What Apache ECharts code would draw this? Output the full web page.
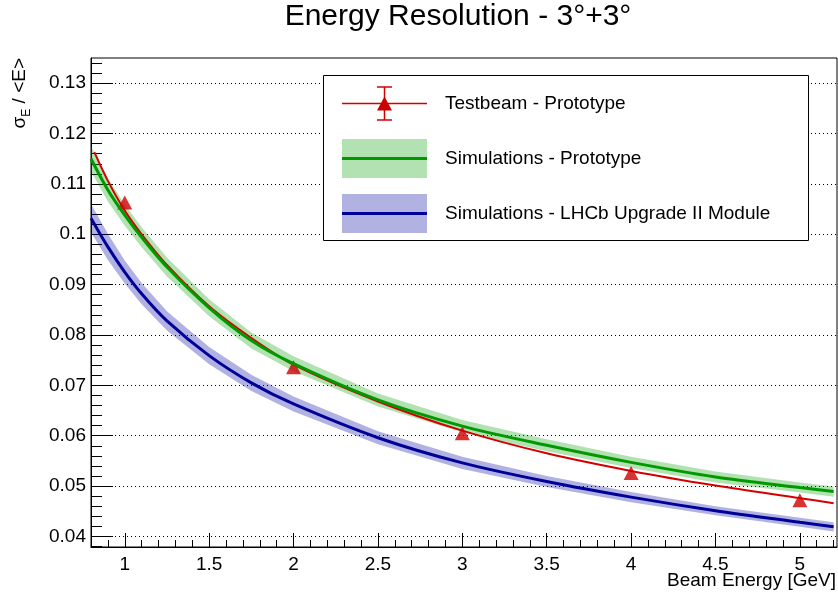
<!DOCTYPE html>
<html><head><meta charset="utf-8">
<script src="https://cdn.jsdelivr.net/npm/echarts@6/dist/echarts.min.js"></script>
<style>html,body{margin:0;padding:0;background:#fff}#c{width:838px;height:595px}</style>
</head><body><div id="c"></div>
<script>
// ---- data ----
const energies      = [0.8, 0.9, 1.0, 1.1, 1.25, 1.5, 1.75, 2.0, 2.5, 3.0, 3.5, 4.0, 4.5, 5.0, 5.2];
const simProto      = [0.1150, 0.1088, 0.1038, 0.0994, 0.0935, 0.0854, 0.0789, 0.0743, 0.0671, 0.0619, 0.0581, 0.0547, 0.0518, 0.0497, 0.0489];
const simProtoErr   = [0.0025, 0.0023, 0.0021, 0.0020, 0.0019, 0.0017, 0.0016, 0.0015, 0.0013, 0.0012, 0.0012, 0.0011, 0.0011, 0.0010, 0.0010];
const simUpgrade    = [0.1032, 0.0975, 0.0925, 0.0882, 0.0828, 0.0759, 0.0705, 0.0663, 0.0596, 0.0546, 0.0509, 0.0478, 0.0451, 0.0428, 0.0419];
const simUpgradeErr = [0.0028, 0.0026, 0.0023, 0.0021, 0.0019, 0.0017, 0.0016, 0.0015, 0.0013, 0.0012, 0.0011, 0.0010, 0.0009, 0.0009, 0.0009];
const fitEnergies   = [0.82, 0.9, 1.0, 1.1, 1.25, 1.5, 1.75, 2.0, 2.5, 3.0, 3.5, 4.0, 4.5, 5.0, 5.2];
const fitTestbeam   = [0.1163, 0.1106, 0.1047, 0.1000, 0.0939, 0.0857, 0.0794, 0.0741, 0.0668, 0.0610, 0.0565, 0.0530, 0.0501, 0.0476, 0.0466];
const beamEnergies  = [1, 2, 3, 4, 5];
const testbeam      = [0.1063, 0.0736, 0.0605, 0.0526, 0.0472];
const xTicks        = [1, 1.5, 2, 2.5, 3, 3.5, 4, 4.5, 5];
const xMinorTicks   = [0.9, 1.1, 1.2, 1.3, 1.4, 1.6, 1.7, 1.8, 1.9, 2.1, 2.2, 2.3, 2.4, 2.6, 2.7, 2.8, 2.9,
                       3.1, 3.2, 3.3, 3.4, 3.6, 3.7, 3.8, 3.9, 4.1, 4.2, 4.3, 4.4, 4.6, 4.7, 4.8, 4.9, 5.1, 5.2];
const yTicks        = [0.04, 0.05, 0.06, 0.07, 0.08, 0.09, 0.1, 0.11, 0.12, 0.13];
const titleText     = 'Energy Resolution - 3°+3°';
const legendLabels  = ['Testbeam - Prototype', 'Simulations - Prototype', 'Simulations - LHCb Upgrade II Module'];

const yMinorTicks = [0.038];
yTicks.forEach(t => { for (let k = 1; k < 5; k++) { const v = +(t + k * 0.002).toFixed(3); if (v < 0.135) yMinorTicks.push(v); } });

const pairs = (xs, ys) => xs.map((x, i) => [x, ys[i]]);

const FONT = 'Liberation Sans, Arial, Helvetica, sans-serif';
const RED = '#d40000', GREEN = '#009900', BLUE = '#000099';
const GREEN_BAND = 'rgba(0,160,0,0.30)', BLUE_BAND = 'rgba(0,0,160,0.30)';
const XMIN = 0.8, XMAX = 5.22, YMIN = 0.0379, YMAX = 0.135;

const chart = echarts.init(document.getElementById('c'), null, {renderer: 'canvas'});

// band drawn as a polygon through the axes' own coordinate conversion
function bandSeries(name, xs, centre, err, color) {
  return {
    name, type: 'custom', silent: true, clip: true,
    data: xs.map((x, i) => [x, centre[i], err[i]]),
    encode: {x: 0, y: 1},
    renderItem: function (params, api) {
      if (params.dataIndex !== 0) return null;
      const upper = [], lower = [];
      for (let i = 0; i < xs.length; i++) {
        upper.push(api.coord([xs[i], centre[i] + err[i]]));
        lower.push(api.coord([xs[i], centre[i] - err[i]]));
      }
      const pts = upper.concat(lower.reverse());
      const cs = params.coordSys;
      return {
        type: 'polygon', shape: {points: pts}, style: {fill: color},
        clipPath: {type: 'rect', shape: {x: cs.x, y: cs.y, width: cs.width, height: cs.height}}
      };
    }
  };
}

const option = {
  animation: false,
  backgroundColor: '#fff',
  grid: {left: 91, right: 1, top: 58, bottom: 48, show: true, borderColor: '#000', borderWidth: 1, backgroundColor: 'transparent'},
  xAxis: [
    {type: 'value', min: XMIN, max: XMAX, position: 'bottom',
     axisLine: {show: true, onZero: false, lineStyle: {color: '#000', width: 1}},
     axisTick: {show: true, inside: true, length: 14, customValues: xTicks, lineStyle: {color: '#000'}},
     axisLabel: {show: true, customValues: xTicks, margin: 8, color: '#000', fontSize: 19, fontFamily: FONT},
     splitLine: {show: false}},
    {type: 'value', min: XMIN, max: XMAX, position: 'bottom',
     axisLine: {show: false},
     axisTick: {show: true, inside: true, length: 7, customValues: xMinorTicks, lineStyle: {color: '#000'}},
     axisLabel: {show: false}, splitLine: {show: false}}
  ],
  yAxis: [
    {type: 'value', min: YMIN, max: YMAX, position: 'left',
     axisLine: {show: true, onZero: false, lineStyle: {color: '#000', width: 1}},
     axisTick: {show: true, inside: true, length: 22, customValues: yTicks, lineStyle: {color: '#000'}},
     axisLabel: {show: true, customValues: yTicks, margin: 5, color: '#000', fontSize: 19, fontFamily: FONT},
     splitLine: {show: true, lineStyle: {color: '#000', width: 1, type: [1, 3]}}},
    {type: 'value', min: YMIN, max: YMAX, position: 'left',
     axisLine: {show: false},
     axisTick: {show: true, inside: true, length: 11, customValues: yMinorTicks, lineStyle: {color: '#000'}},
     axisLabel: {show: false}, splitLine: {show: false}}
  ],
  series: [
    bandSeries('upgBand', energies, simUpgrade, simUpgradeErr, BLUE_BAND),
    {name: legendLabels[2], type: 'line', data: pairs(energies, simUpgrade),
     symbol: 'none', smooth: 0.3, lineStyle: {color: BLUE, width: 3}},
    {name: 'fit', type: 'line', data: pairs(fitEnergies, fitTestbeam),
     symbol: 'none', smooth: 0.3, lineStyle: {color: RED, width: 2}},
    {name: legendLabels[0], type: 'scatter', data: pairs(beamEnergies, testbeam),
     symbol: 'triangle', symbolSize: [15, 14], itemStyle: {color: '#cc0000'}},
    bandSeries('protoBand', energies, simProto, simProtoErr, GREEN_BAND),
    {name: legendLabels[1], type: 'line', data: pairs(energies, simProto),
     symbol: 'none', smooth: 0.3, lineStyle: {color: GREEN, width: 3}}
  ],
  graphic: [
    {type: 'text', x: 458, y: 17, z: 10, style: {text: titleText, fontSize: 30, fontFamily: FONT, fill: '#000', align: 'center', verticalAlign: 'middle'}},
    {type: 'text', x: 836, y: 581, z: 10, style: {text: 'Beam Energy [GeV]', fontSize: 19, fontFamily: FONT, fill: '#000', align: 'right', verticalAlign: 'middle'}},
    {type: 'text', x: 20, y: 58, z: 10, rotation: Math.PI / 2,
     style: {text: '{a|σ}{b|E}{a| / <E>}', align: 'right', verticalAlign: 'middle', fill: '#000',
       rich: {a: {fontSize: 19, fontFamily: FONT, lineHeight: 26, verticalAlign: 'middle'},
              b: {fontSize: 12, fontFamily: FONT, lineHeight: 12, verticalAlign: 'bottom'}}}},
    // legend box
    {type: 'rect', z: 10, shape: {x: 323.5, y: 75.5, width: 485, height: 165}, style: {fill: '#fff', stroke: '#000', lineWidth: 1}},
    {type: 'line', z: 11, shape: {x1: 342, y1: 103.5, x2: 427, y2: 103.5}, style: {stroke: RED, lineWidth: 1.5}},
    {type: 'line', z: 11, shape: {x1: 384.5, y1: 87, x2: 384.5, y2: 120}, style: {stroke: RED, lineWidth: 1.5}},
    {type: 'line', z: 11, shape: {x1: 377, y1: 87, x2: 392, y2: 87}, style: {stroke: RED, lineWidth: 1.5}},
    {type: 'line', z: 11, shape: {x1: 377, y1: 120, x2: 392, y2: 120}, style: {stroke: RED, lineWidth: 1.5}},
    {type: 'polygon', z: 12, shape: {points: [[384.5, 96.5], [392, 110.5], [377, 110.5]]}, style: {fill: '#cc0000'}},
    {type: 'text', z: 11, x: 445, y: 103.5, style: {text: legendLabels[0], fontSize: 19, fontFamily: FONT, fill: '#000', verticalAlign: 'middle'}},
    {type: 'rect', z: 11, shape: {x: 342, y: 139, width: 85, height: 39}, style: {fill: GREEN_BAND}},
    {type: 'line', z: 12, shape: {x1: 342, y1: 158.5, x2: 427, y2: 158.5}, style: {stroke: GREEN, lineWidth: 3}},
    {type: 'text', z: 11, x: 445, y: 158.5, style: {text: legendLabels[1], fontSize: 19, fontFamily: FONT, fill: '#000', verticalAlign: 'middle'}},
    {type: 'rect', z: 11, shape: {x: 342, y: 194, width: 85, height: 39}, style: {fill: BLUE_BAND}},
    {type: 'line', z: 12, shape: {x1: 342, y1: 213.5, x2: 427, y2: 213.5}, style: {stroke: BLUE, lineWidth: 3}},
    {type: 'text', z: 11, x: 445, y: 213.5, style: {text: legendLabels[2], fontSize: 19, fontFamily: FONT, fill: '#000', verticalAlign: 'middle'}}
  ]
};
chart.setOption(option);
</script>
</body></html>
